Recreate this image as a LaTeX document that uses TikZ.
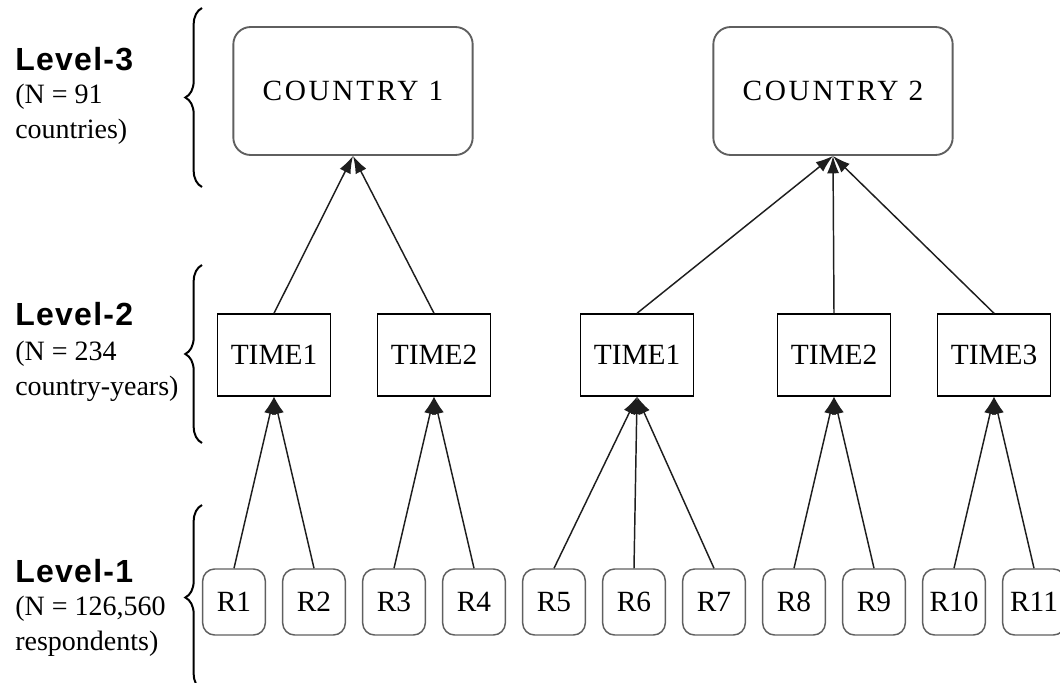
\documentclass[tikz,border=0pt]{standalone}
\usepackage{fontspec}
\setmainfont{Liberation Serif}
\setsansfont{Liberation Sans}
\usetikzlibrary{arrows.meta,decorations.pathreplacing}
\definecolor{boxgray}{RGB}{95,95,95}
\definecolor{arrowgray}{RGB}{30,30,30}
\begin{document}
\begin{tikzpicture}[x=0.75pt,y=-0.75pt,
  countrybox/.style={draw=boxgray,line width=1.4pt,rounded corners=13pt,
    minimum width=179.5pt,minimum height=96pt,inner sep=0pt,
    font=\fontsize{22}{26}\selectfont\addfontfeatures{LetterSpace=9}},
  timebox/.style={draw=black,line width=1.1pt,minimum width=84.75pt,
    minimum height=61.5pt,inner sep=0pt,font=\fontsize{22}{26}\selectfont},
  respbox/.style={draw=boxgray,line width=1.1pt,rounded corners=9pt,
    minimum width=47pt,minimum height=49.5pt,inner sep=0pt,
    font=\fontsize{22}{26}\selectfont},
  arr/.style={draw=arrowgray,line width=1.1pt,-{Latex[length=13pt,width=9pt]}},
  bracestyle/.style={draw=black,line width=1.5pt,decorate,
    decoration={brace,amplitude=12.5pt}},
  lvltitle/.style={anchor=base west,inner sep=0pt,
    font=\sffamily\bfseries\fontsize{24}{28}\selectfont\addfontfeatures{LetterSpace=4}},
  lvldetail/.style={anchor=base west,inner sep=0pt,align=left,
    font=\fontsize{21}{26.25}\selectfont}]
\useasboundingbox (0,0) rectangle (1060,682);

% level labels (detail nodes placed at the baseline of their last line)
\node[lvltitle] (l3) at (15,70) {Level-3};
\node[lvldetail] (d3) at (15,138) {(N = 91\\countries)};
\node[lvltitle] (l2) at (15,325) {Level-2};
\node[lvldetail] (d2) at (15,395) {(N = 234\\country-years)};
\node[lvltitle] (l1) at (15,582) {Level-1};
\node[lvldetail] (d1) at (15,650) {(N = 126,560\\respondents)};

% braces
\draw[bracestyle] (202,187) -- (202,8);
\draw[bracestyle] (202,443) -- (202,265);
\draw[bracestyle] (202,690) -- (202,505);

% countries
\node[countrybox] (C1) at (353,91) {COUNTRY 1};
\node[countrybox] (C2) at (833,91) {COUNTRY 2};

% times
\node[timebox] (T1) at (274,355) {TIME1};
\node[timebox] (T2) at (434,355) {TIME2};
\node[timebox] (T3) at (637,355) {TIME1};
\node[timebox] (T4) at (834,355) {TIME2};
\node[timebox] (T5) at (994,355) {TIME3};

% respondents
\foreach \i in {1,...,11}{
  \node[respbox] (R\i) at ({234+80*(\i-1)},602) {R\i};
}

% arrows level-2 -> level-3
\draw[arr] (T1.north) -- (C1.south);
\draw[arr] (T2.north) -- (C1.south);
\draw[arr] (T3.north) -- (C2.south);
\draw[arr] (T4.north) -- (C2.south);
\draw[arr] (T5.north) -- (C2.south);

% arrows level-1 -> level-2
\draw[arr] (R1.north) -- (T1.south);
\draw[arr] (R2.north) -- (T1.south);
\draw[arr] (R3.north) -- (T2.south);
\draw[arr] (R4.north) -- (T2.south);
\draw[arr] (R5.north) -- (T3.south);
\draw[arr] (R6.north) -- (T3.south);
\draw[arr] (R7.north) -- (T3.south);
\draw[arr] (R8.north) -- (T4.south);
\draw[arr] (R9.north) -- (T4.south);
\draw[arr] (R10.north) -- (T5.south);
\draw[arr] (R11.north) -- (T5.south);
\end{tikzpicture}
\end{document}
